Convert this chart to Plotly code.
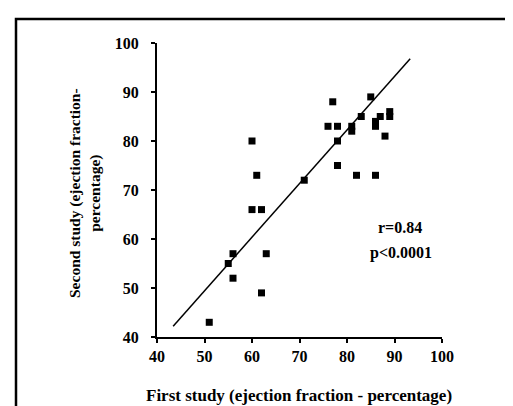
import plotly.graph_objects as go

# Data
first_study = [51, 55, 56, 56, 60, 60, 61, 62, 62, 63, 71, 76, 77, 78, 78, 78,
               81, 81, 82, 83, 85, 86, 86, 86, 87, 88, 89, 89]
second_study = [43, 55, 57, 52, 80, 66, 73, 66, 49, 57, 72, 83, 88, 83, 80, 75,
                83, 82, 73, 85, 89, 84, 83, 73, 85, 81, 86, 85]
fit_x = [43.4, 93.3]
fit_y = [42.2, 96.8]
tick_vals = [40, 50, 60, 70, 80, 90, 100]
stats_text = ["r=0.84", "p<0.0001"]

W, H = 513, 406
L, R, T, B = 149, 79, 35, 77
pw, ph = W - L - R, H - T - B

def px(x):
    return (x - L) / pw

def py(y):
    return (H - B - y) / ph

serif = "Liberation Serif"
fig = go.Figure()
fig.add_trace(go.Scatter(x=fit_x, y=fit_y, mode="lines",
                         line=dict(color="black", width=1.5), hoverinfo="skip"))
fig.add_trace(go.Scatter(x=first_study, y=second_study, mode="markers",
                         marker=dict(symbol="square", size=7, color="black")))

axis_common = dict(range=[40, 100], tickvals=tick_vals, showgrid=False, zeroline=False,
                   showline=True, linecolor="black", linewidth=2,
                   ticks="outside", ticklen=4, tickwidth=2, tickcolor="black",
                   tickfont=dict(family=serif, size=16, color="black", weight="bold"))
fig.update_xaxes(**axis_common, ticklabelstandoff=0)
fig.update_yaxes(**axis_common, ticklabelstandoff=9)

annos = [
    dict(text="First study (ejection fraction - percentage)", x=px(291), y=py(387),
         font=dict(size=17)),
    dict(text="Second study (ejection fraction-<br>percentage)", x=px(77), y=py(185),
         textangle=-90, font=dict(size=15.5)),
    dict(text=stats_text[0], x=px(392), y=py(220), font=dict(size=16)),
    dict(text=stats_text[1], x=px(393), y=py(245), font=dict(size=16)),
]
for a in annos:
    f = dict(family=serif, color="black", weight="bold")
    f.update(a.pop("font"))
    fig.add_annotation(xref="paper", yref="paper", showarrow=False,
                       xanchor="center", yanchor="middle", font=f, **a)

fig.add_shape(type="rect", xref="paper", yref="paper",
              x0=px(8), x1=px(530), y0=py(430), y1=py(11),
              line=dict(color="black", width=2.5))

fig.update_layout(width=W, height=H, margin=dict(l=L, r=R, t=T, b=B),
                  paper_bgcolor="white", plot_bgcolor="white", showlegend=False)
fig.write_html("out.html")
